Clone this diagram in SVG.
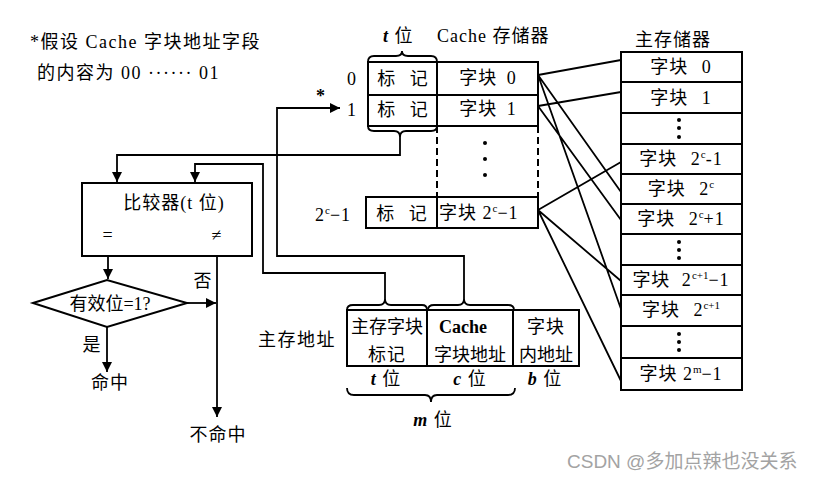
<svg xmlns="http://www.w3.org/2000/svg" width="813" height="477" viewBox="0 0 813 477">
<defs>
<style>
.b{fill:none;stroke:#000;stroke-width:2}
.c{fill:none;stroke:#000;stroke-width:1.8}
.d{fill:none;stroke:#000;stroke-width:2;stroke-dasharray:7,4}
.t{font-family:"Liberation Serif","Noto Sans CJK SC",serif;font-size:18px;fill:#000;letter-spacing:1px}
.m{text-anchor:middle}
.i{font-style:italic;font-weight:bold}
.s{font-size:11px;letter-spacing:0}
.k{word-spacing:8px}
.w{font-family:"Liberation Sans","Noto Sans CJK SC",sans-serif;font-size:19px;fill:#a3a3a3}
</style>
<marker id="ah" viewBox="0 0 10 10" refX="10" refY="5" markerWidth="10" markerHeight="10" markerUnits="userSpaceOnUse" orient="auto">
<path d="M0,0 L10,5 L0,10 Z" fill="#000"/>
</marker>
</defs>
<rect width="813" height="477" fill="#fff"/>

<g id="note">
<text class="t" x="30" y="48" style="letter-spacing:1.5px">*假设 Cache 字块地址字段</text>
<text class="t" x="37" y="79" style="letter-spacing:1.5px">的内容为 00 ······ 01</text>
</g>

<g id="cache">
<text class="t" x="383" y="42"><tspan class="i">t</tspan> 位</text>
<text class="t" x="437" y="42">Cache 存储器</text>
<path class="c" d="M368,62 Q368,56 374,56 L396,56 Q402,56 402,51 Q402,56 408,56 L431,56 Q437,56 437,62"/>
<rect class="b" x="368" y="62" width="170" height="64"/>
<line class="b" x1="368" y1="95" x2="538" y2="95"/>
<line class="b" x1="437" y1="62" x2="437" y2="126"/>
<path class="c" d="M368,126 Q368,131 374,131 L394,131 Q400,131 400,137 Q400,131 406,131 L431,131 Q437,131 437,126"/>
<text class="t m" x="352" y="85" font-size="19">0</text>
<text class="t m" x="352" y="116" font-size="19">1</text>
<text class="t m k" x="403" y="85">标 记</text>
<text class="t m k" x="403" y="116">标 记</text>
<text class="t m" x="488" y="84" style="word-spacing:4px">字块 0</text>
<text class="t m" x="488" y="115" style="word-spacing:4px">字块 1</text>
<line class="d" x1="437" y1="126" x2="437" y2="197"/>
<line class="d" x1="538" y1="126" x2="538" y2="197"/>
<circle cx="485" cy="143" r="2"/><circle cx="485" cy="159" r="2"/><circle cx="485" cy="175" r="2"/>
<rect class="b" x="366" y="197" width="172" height="31"/>
<line class="b" x1="437" y1="197" x2="437" y2="228"/>
<text class="t" x="315" y="221">2<tspan class="s" dy="-7">c</tspan><tspan dy="7">−1</tspan></text>
<text class="t m k" x="402" y="220">标 记</text>
<text class="t" x="439" y="219">字块 2<tspan class="s" dy="-7">c</tspan><tspan dy="7">−1</tspan></text>
</g>

<g id="main-memory">
<text class="t m" x="673" y="46">主存储器</text>
<rect class="b" x="621" y="52" width="121" height="338"/>
<path class="b" d="M621,82H742M621,113H742M621,144H742M621,174H742M621,204H742M621,234H742M621,265H742M621,295H742M621,326H742M621,358H742"/>
<text class="t m k" x="681" y="73">字块 0</text>
<text class="t m k" x="681" y="104">字块 1</text>
<circle cx="679" cy="120" r="2"/><circle cx="679" cy="128" r="2"/><circle cx="679" cy="137" r="2"/>
<text class="t m k" x="681" y="165">字块 2<tspan class="s" dy="-7">c</tspan><tspan dy="7">-1</tspan></text>
<text class="t m k" x="681" y="195">字块 2<tspan class="s" dy="-7">c</tspan></text>
<text class="t m k" x="681" y="225">字块 2<tspan class="s" dy="-7">c</tspan><tspan dy="7">+1</tspan></text>
<circle cx="679" cy="242" r="2"/><circle cx="679" cy="250" r="2"/><circle cx="679" cy="258" r="2"/>
<text class="t m" x="681" y="286" style="word-spacing:6px">字块 2<tspan class="s" dy="-7">c+1</tspan><tspan dy="7">−1</tspan></text>
<text class="t m k" x="681" y="316">字块 2<tspan class="s" dy="-7">c+1</tspan></text>
<circle cx="679" cy="334" r="2"/><circle cx="679" cy="342" r="2"/><circle cx="679" cy="350" r="2"/>
<text class="t m" x="681" y="380">字块 2<tspan class="s" dy="-7">m</tspan><tspan dy="7">−1</tspan></text>
</g>

<g id="comparator">
<rect class="b" x="82" y="183" width="170" height="73"/>
<text class="t m" x="174" y="209">比较器(t 位)</text>
<text class="t m" x="108" y="241">=</text>
<text class="t m" x="217" y="241">≠</text>
</g>

<g id="valid-check">
<path class="b" d="M33,303 L107,280 L187,303 L107,327 Z"/>
<text class="t m" x="110" y="310" style="letter-spacing:0">有效位=1?</text>
</g>

<g id="hit">
<text class="t m" x="110" y="389">命中</text>
</g>
<g id="miss">
<text class="t m" x="218" y="441">不命中</text>
</g>

<g id="main-address">
<text class="t" x="258" y="346" style="letter-spacing:1.5px">主存地址</text>
<path class="c" d="M347,310 Q347,305 353,305 L379,305 Q385,305 385,299 Q385,305 391,305 L422,305 Q427,305 427,310"/>
<path class="c" d="M428,310 Q428,305 434,305 L458,305 Q464,305 464,299 Q464,305 470,305 L508,305 Q514,305 514,310"/>
<rect class="b" x="347" y="310" width="232" height="56"/>
<line class="b" x1="427" y1="310" x2="427" y2="366"/>
<line class="b" x1="513" y1="310" x2="513" y2="366"/>
<text class="t m" x="387" y="333" style="letter-spacing:0">主存字块</text>
<text class="t m" x="387" y="361">标记</text>
<text class="t m" x="463" y="333" font-weight="bold" style="letter-spacing:0">Cache</text>
<text class="t m" x="470" y="361" style="letter-spacing:0">字块地址</text>
<text class="t m" x="546" y="333">字块</text>
<text class="t m" x="546" y="361" style="letter-spacing:0">内地址</text>
<text class="t m" x="386" y="385"><tspan class="i">t</tspan> 位</text>
<text class="t m" x="470" y="385"><tspan class="i">c</tspan> 位</text>
<text class="t m" x="545" y="385"><tspan class="i">b</tspan> 位</text>
<path class="c" d="M347,388 Q347,395 354,395 L425,395 Q431,395 431,402 Q431,395 437,395 L508,395 Q515,395 515,388"/>
<text class="t m" x="433" y="426"><tspan class="i">m</tspan> 位</text>
</g>

<g id="connectors">
<path class="c" d="M400,137 V155 H117 V182" marker-end="url(#ah)"/>
<path class="c" d="M385,299 V273 H263 V164 H195 V182" marker-end="url(#ah)"/>
<path class="c" d="M464,299 V256 H277 V108 H340" marker-end="url(#ah)"/>
<text class="t m" x="321" y="102" font-weight="bold">*</text>
<path class="c" d="M108,256 V279" marker-end="url(#ah)"/>
<path class="c" d="M217,256 V417" marker-end="url(#ah)"/>
<path class="c" d="M187,303 H216" marker-end="url(#ah)"/>
<path class="c" d="M107,327 V372" marker-end="url(#ah)"/>
<text class="t m" x="203" y="287">否</text>
<text class="t m" x="92" y="351">是</text>
<path class="c" d="M538,75 L621,60 M538,75 L621,192 M538,75 L621,309 M538,106 L621,92 M538,106 L621,220 M538,210 L621,162 M538,210 L621,281 M538,210 L621,381"/>
</g>

<text class="w" x="567" y="468">CSDN @多加点辣也没关系</text>
</svg>
